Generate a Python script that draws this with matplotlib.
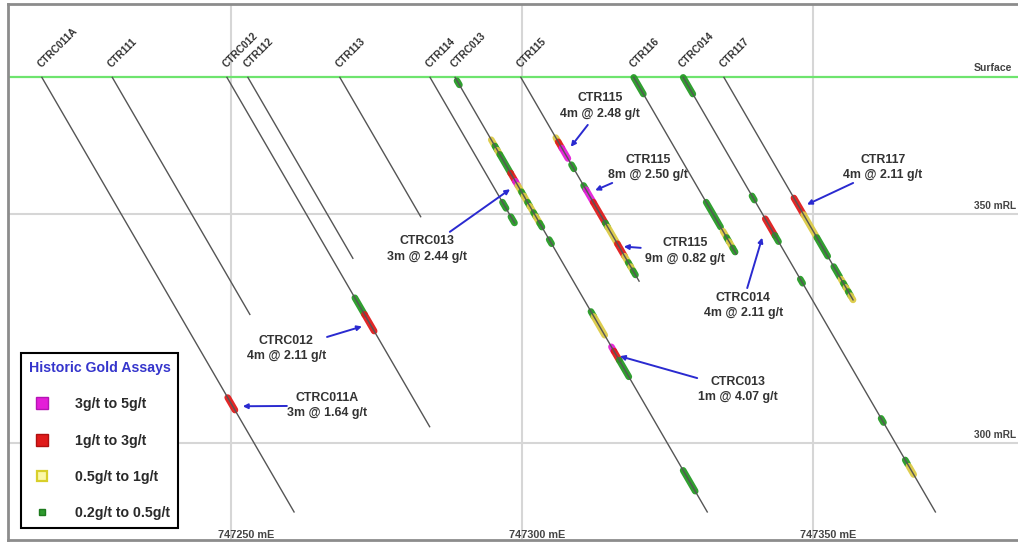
import numpy as np
import matplotlib
matplotlib.use("Agg")
import matplotlib.pyplot as plt
from matplotlib.lines import Line2D
import matplotlib.transforms as mtransforms

plt.rcParams["font.family"] = ["Liberation Sans", "DejaVu Sans"]

# ---------------------------------------------------------------- data
SURFACE_RL = 380.0          # collar elevation (mRL)
DIP_DEG = 65.5              # hole dip, all holes drilled towards grid east

HOLES = ["CTRC011A", "CTR111", "CTRC012", "CTR112", "CTR113", "CTR114",
         "CTRC013", "CTR115", "CTR116", "CTRC014", "CTR117"]
COLLAR_E = [747217.5, 747229.6, 747249.3, 747252.9, 747268.7, 747284.2,
            747288.5, 747299.8, 747319.2, 747327.7, 747334.7]
HOLE_DEPTH = [104.5, 57.0, 84.0, 43.5, 33.5, 35.0,
              104.5, 49.0, 42.5, 104.5, 53.5]

# assay intervals (down-hole metres) and grade class
# class: A = 3-5 g/t, B = 1-3 g/t, C = 0.5-1 g/t, D = 0.2-0.5 g/t
ASSAY_HOLE = (["CTRC011A"]
              + ["CTRC012"] * 2
              + ["CTR114"] * 2
              + ["CTRC013"] * 22
              + ["CTR115"] * 14
              + ["CTR116"] * 6
              + ["CTRC014"] * 8
              + ["CTR117"] * 9)
ASSAY_FROM = ([77.0]
              + [53.0, 57.0]
              + [30.0, 33.5]
              + [0.8, 15.0, 16.5, 17.5, 18.5, 23.0, 25.0, 26.0, 27.5, 28.5,
                 30.0, 31.0, 32.5, 33.5, 35.0, 39.0, 56.3, 57.5, 64.8, 65.8,
                 68.0, 94.5]
              + [14.5, 15.5, 17.0, 21.0, 26.0, 27.0, 30.0, 35.0, 36.0, 40.0,
                 43.0, 44.5, 45.5, 46.5]
              + [0.0, 30.0, 37.0, 38.5, 39.5, 41.0]
              + [0.0, 28.5, 34.0, 38.0, 48.5, 82.0, 92.0, 93.5]
              + [29.0, 33.0, 38.5, 45.5, 48.5, 49.5, 50.5, 51.5, 52.5])
ASSAY_TO = ([80.0]
            + [57.0, 61.0]
            + [31.5, 35.0]
            + [1.8, 16.5, 17.5, 18.5, 23.0, 25.0, 26.0, 27.5, 28.5, 30.0,
               31.0, 32.5, 33.5, 35.0, 36.0, 40.0, 57.5, 62.0, 65.8, 68.0,
               72.0, 99.5]
            + [15.5, 17.0, 19.5, 22.0, 27.0, 30.0, 35.0, 36.0, 40.0, 43.0,
               44.5, 45.5, 46.5, 47.5]
            + [4.0, 36.0, 38.5, 39.5, 41.0, 42.0]
            + [4.0, 29.5, 38.0, 39.5, 49.5, 83.0, 93.0, 95.5]
            + [33.0, 38.5, 43.0, 48.0, 49.5, 50.5, 51.5, 52.5, 53.5])
ASSAY_CLASS = (["B"]
               + ["D", "B"]
               + ["D", "D"]
               + ["D", "C", "D", "C", "D", "B", "A", "C", "D", "C",
                  "D", "C", "D", "C", "D", "D", "D", "C", "A", "B",
                  "D", "D"]
               + ["C", "B", "A", "D", "D", "A", "B", "D", "C", "B",
                  "C", "D", "C", "D"]
               + ["D", "D", "C", "D", "C", "D"]
               + ["D", "D", "B", "D", "D", "D", "D", "C"]
               + ["B", "C", "D", "D", "C", "D", "C", "D", "C"])

CLASS_LABELS = ["3g/t to 5g/t", "1g/t to 3g/t", "0.5g/t to 1g/t", "0.2g/t to 0.5g/t"]

# significant intercepts: hole, label, target depth
CALLOUT_HOLE = ["CTR115", "CTR115", "CTR115", "CTRC013", "CTRC014",
                "CTR117", "CTRC013", "CTRC012", "CTRC011A"]
CALLOUT_TEXT = ["4m @ 2.48 g/t", "8m @ 2.50 g/t", "9m @ 0.82 g/t",
                "3m @ 2.44 g/t", "4m @ 2.11 g/t", "4m @ 2.11 g/t",
                "1m @ 4.07 g/t", "4m @ 2.11 g/t", "3m @ 1.64 g/t"]
CALLOUT_DEPTH = [18.4, 27.9, 40.6, 25.7, 34.7, 31.4, 66.8, 59.3, 79.1]

EASTING_GRID = [747250, 747300, 747350]
RL_GRID = [350, 300]

# ---------------------------------------------------------------- layout
# label centre (E, RL), arrow tail (E, RL), arrow gap at hole (pt)
CALLOUT_LABEL_POS = [(747313.4, 373.8), (747321.6, 360.3), (747328.0, 342.0),
                     (747283.7, 342.5), (747338.0, 330.1), (747362.0, 360.3),
                     (747337.1, 311.7), (747259.5, 320.7), (747266.5, 308.2)]
CALLOUT_TAIL_POS = [(747311.3, 369.6), (747315.5, 356.9), (747320.4, 342.7),
                    (747287.6, 346.2), (747338.7, 333.9), (747356.9, 356.9),
                    (747330.1, 314.2), (747266.5, 323.2), (747259.6, 308.1)]
CALLOUT_GAP = [6.5, 5.5, 3.6, 6.2, 12.0, 5.8, 2.7, 6.1, 7.2]

CLASS_COLOR = {"A": "#e41ed8", "B": "#e01b1b", "C": "#dccb45", "D": "#259a25"}

W, H = 1018, 542
fig = plt.figure(figsize=(W / 100, H / 100), dpi=100)
ax = fig.add_axes([8 / W, 2 / H, (1030 - 8) / W, (540 - 4) / H])
ax.set_xlim(747211.68, 747387.29)
ax.set_ylim(278.77, 396.06)
ax.set_xticks([])
ax.set_yticks([])
for s in ax.spines.values():
    s.set_color("#8c8c8c")
    s.set_linewidth(2.0)

# coordinate grid
for e in EASTING_GRID:
    ax.axvline(e, color="#d6d6d6", lw=1.5, zorder=0)
for rl in RL_GRID:
    ax.axhline(rl, color="#d6d6d6", lw=1.5, zorder=0)

# topographic surface
ax.axhline(SURFACE_RL, color="#6ee46e", lw=1.6, zorder=1)

cos_d = np.cos(np.radians(DIP_DEG))
sin_d = np.sin(np.radians(DIP_DEG))
collar = dict(zip(HOLES, COLLAR_E))


def hole_xy(hole, depth):
    d = np.asarray(depth, dtype=float)
    return collar[hole] + d * cos_d, SURFACE_RL - d * sin_d


# assay intervals as thick coloured bands behind the traces
for h, a, b, c in zip(ASSAY_HOLE, ASSAY_FROM, ASSAY_TO, ASSAY_CLASS):
    x, y = hole_xy(h, [a, b])
    ax.plot(x, y, color=CLASS_COLOR[c], lw=4.8, solid_capstyle="round",
            zorder=2, alpha=0.95)

# drill traces and collar names
for h, d in zip(HOLES, HOLE_DEPTH):
    x, y = hole_xy(h, [0.0, d])
    ax.plot(x, y, color="#555555", lw=1.0, zorder=3)
    ax.annotate(h, xy=(collar[h], SURFACE_RL), xytext=(0.8, 6.0),
                textcoords="offset points", rotation=45, rotation_mode="anchor",
                ha="left", va="bottom", fontsize=7.3, fontweight="bold",
                color="#333333", zorder=5)

# intercept call-outs
for h, txt, dep, lp, tp, gap in zip(CALLOUT_HOLE, CALLOUT_TEXT, CALLOUT_DEPTH,
                                     CALLOUT_LABEL_POS, CALLOUT_TAIL_POS, CALLOUT_GAP):
    tip = hole_xy(h, dep)
    ax.annotate("", xy=(float(tip[0]), float(tip[1])), xytext=tp,
                arrowprops=dict(arrowstyle="-|>", color="#2a2ad0", lw=1.4,
                                shrinkA=0, shrinkB=gap, mutation_scale=7),
                zorder=6)
    ax.text(lp[0], lp[1], f"{h}\n{txt}", ha="center", va="center",
            fontsize=8.9, fontweight="bold", color="#333333",
            linespacing=1.4, zorder=6)

# grid annotations
bottom = mtransforms.blended_transform_factory(ax.transData, ax.transAxes)
for e in EASTING_GRID:
    ax.text(e + 2.6, 0.01, f"{e} mE", transform=bottom, ha="center",
            va="center", fontsize=7.8, fontweight="bold", color="#444444")
X_RIGHT = 747377.6
for rl in RL_GRID:
    ax.annotate(f"{rl} mRL", xy=(X_RIGHT, rl), xytext=(0, 2.5),
                textcoords="offset points", ha="left", va="bottom",
                fontsize=7.3, fontweight="bold", color="#444444")
ax.annotate("Surface", xy=(X_RIGHT, SURFACE_RL), xytext=(0, 3),
            textcoords="offset points", ha="left", va="bottom",
            fontsize=7.6, fontweight="bold", color="#444444")

# legend
handles = [
    Line2D([], [], ls="none", marker="s", markersize=9,
           markerfacecolor=CLASS_COLOR["A"], markeredgecolor="#b414b4"),
    Line2D([], [], ls="none", marker="s", markersize=8,
           markerfacecolor=CLASS_COLOR["B"], markeredgecolor="#b01010"),
    Line2D([], [], ls="none", marker="s", markersize=7,
           markerfacecolor="#fbf8a8", markeredgecolor="#d8cf2a", markeredgewidth=1.6),
    Line2D([], [], ls="none", marker="s", markersize=4.5,
           markerfacecolor="#2e9a2e", markeredgecolor="#1e7a1e"),
]
leg = ax.legend(handles, CLASS_LABELS, title="Historic Gold Assays",
                loc="upper left", bbox_to_anchor=(21 / W, 1 - 353 / H),
                bbox_transform=fig.transFigure, borderaxespad=0,
                fontsize=10.2, labelspacing=1.58, handlelength=1.75,
                handletextpad=1.4, borderpad=0.55, fancybox=False,
                framealpha=1, edgecolor="black",
                title_fontproperties={"size": 10.2, "weight": "bold"})
leg.get_frame().set_linewidth(1.5)
leg.get_title().set_color("#3535cc")
for t in leg.get_texts():
    t.set_fontweight("bold")
    t.set_color("#2a2a2a")
leg.set_zorder(7)

fig.savefig("out.png", dpi=100, facecolor="white")
